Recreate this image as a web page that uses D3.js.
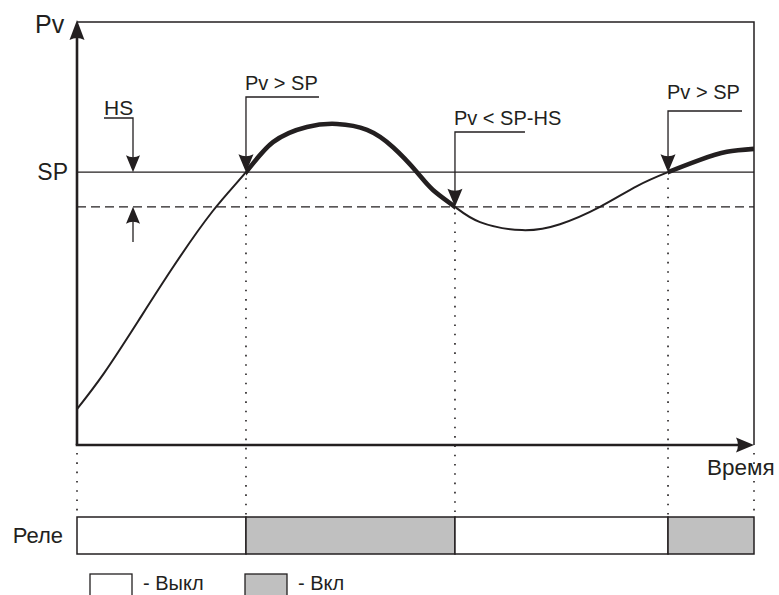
<!DOCTYPE html>
<html>
<head>
<meta charset="utf-8">
<script src="https://cdn.jsdelivr.net/npm/d3@7"></script>
<style>
  html, body { margin: 0; padding: 0; background: #fff; }
  svg { display: block; }
  text { font-family: "Liberation Sans", Arial, sans-serif; fill: #231f20; }
</style>
</head>
<body>
<svg id="chart" width="779" height="595"></svg>
<script>
// ---- data (arbitrary units: time 0..100, Pv 0..100) ----
const timeValues = [0, 4, 9, 14, 20, 24.96, 28.95, 33.97, 38.4, 42.84, 46.68, 50.22, 52.58, 55.83, 59.53, 65.73, 71.34, 77.25, 82.72, 87.3, 92.02, 96.0, 100];
const pvValues   = [8.5, 17.0, 29.2, 41.6, 55.2, 64.5, 71.6, 75.2, 75.9, 74.5, 70.4, 64.5, 60.3, 56.3, 52.7, 50.8, 52.2, 56.3, 61.2, 64.5, 67.4, 69.3, 70.0];
const setPoint = 64.5;
const hysteresis = 8.2;
const switchTimes = [24.96, 55.83, 87.3];          // relay switching moments
const switchLabels = ["Pv > SP", "Pv < SP-HS", "Pv > SP"];
const switchLevels = [64.5, 56.3, 64.5];
const relayStart = [0, 24.96, 55.83, 87.3];
const relayEnd   = [24.96, 55.83, 87.3, 100];
const relayOn    = [false, true, false, true];
const legendLabels = ["- Выкл", "- Вкл"];

const INK = "#231f20";
const GRAY = "#c0c0c0";

const svg = d3.select("#chart");
const x = d3.scaleLinear().domain([0, 100]).range([77, 754]);
const y = d3.scaleLinear().domain([0, 100]).range([445, 22]);

const pts = timeValues.map((t, i) => [t, pvValues[i]]);
const line = d3.line().x(d => x(d[0])).y(d => y(d[1])).curve(d3.curveNatural);

function tri(cx, tipY, w, h, dir) {
  // dir: 1 = pointing down, -1 = pointing up
  const by = tipY - dir * h;
  return `M${cx},${tipY}L${cx - w / 2},${by}Q${cx},${by + dir * 4} ${cx + w / 2},${by}Z`;
}
function triRight(tipX, cy, w, h) {
  const bx = tipX - w;
  return `M${tipX},${cy}L${bx},${cy - h / 2}Q${bx + 4},${cy} ${bx},${cy + h / 2}Z`;
}

const relayTop = 517, relayBot = 554;

// ---- frame ----
svg.append("path").attr("d", `M${x(0)},${y(100)}H${x(100)}V${y(0)}`)
  .attr("fill", "none").attr("stroke", INK).attr("stroke-width", 1.5);

// SP line and SP-HS dashed line
svg.append("line").attr("x1", x(0)).attr("x2", x(100)).attr("y1", y(setPoint)).attr("y2", y(setPoint))
  .attr("stroke", INK).attr("stroke-width", 1.4);
svg.append("line").attr("x1", x(0)).attr("x2", x(100)).attr("y1", y(setPoint - hysteresis)).attr("y2", y(setPoint - hysteresis))
  .attr("stroke", INK).attr("stroke-width", 1.4).attr("stroke-dasharray", "9,5");

// dotted verticals
switchTimes.forEach((t, i) => {
  svg.append("line").attr("x1", x(t)).attr("x2", x(t)).attr("y1", y(switchLevels[i]) + 6).attr("y2", relayTop)
    .attr("stroke", INK).attr("stroke-width", 1.6).attr("stroke-dasharray", "1.6,7.7");
});
[0, 100].forEach(t => {
  svg.append("line").attr("x1", x(t)).attr("x2", x(t)).attr("y1", y(0) + 8).attr("y2", relayTop)
    .attr("stroke", INK).attr("stroke-width", 1.6).attr("stroke-dasharray", "1.6,7.7");
});

// ---- curve ----
svg.append("path").datum(pts).attr("d", line).attr("fill", "none")
  .attr("stroke", INK).attr("stroke-width", 2);

const defs = svg.append("defs");
relayStart.forEach((s, i) => {
  if (!relayOn[i]) return;
  defs.append("clipPath").attr("id", "on" + i).append("rect")
    .attr("x", x(s)).attr("width", x(relayEnd[i]) - x(s)).attr("y", 0).attr("height", 595);
  svg.append("path").datum(pts).attr("d", line).attr("fill", "none")
    .attr("stroke", INK).attr("stroke-width", 4.6).attr("clip-path", `url(#on${i})`);
});

// ---- axes ----
svg.append("line").attr("x1", x(0)).attr("x2", x(0)).attr("y1", y(0)).attr("y2", 36)
  .attr("stroke", INK).attr("stroke-width", 2.6);
svg.append("path").attr("d", tri(x(0), 20, 15, 20, -1)).attr("fill", INK);
svg.append("line").attr("x1", x(0) - 1.3).attr("x2", 740).attr("y1", y(0)).attr("y2", y(0))
  .attr("stroke", INK).attr("stroke-width", 2.6);
svg.append("path").attr("d", triRight(x(100), y(0), 18, 15)).attr("fill", INK);

// ---- axis labels ----
svg.append("text").attr("x", 35).attr("y", 33).attr("font-size", 25).text("Pv");
svg.append("text").attr("x", 68).attr("y", 180).attr("text-anchor", "end").attr("font-size", 23).text("SP");
svg.append("text").attr("x", 707).attr("y", 475).attr("font-size", 22.5).text("Время");

// ---- HS annotation ----
const hsX = 133;
svg.append("text").attr("x", 104).attr("y", 115).attr("font-size", 21).text("HS");
svg.append("path").attr("d", `M104,118H${hsX}V${y(setPoint) - 14}`).attr("fill", "none")
  .attr("stroke", INK).attr("stroke-width", 1.3);
svg.append("path").attr("d", tri(hsX, y(setPoint), 14, 17, 1)).attr("fill", INK);
svg.append("path").attr("d", `M${hsX},242V${y(setPoint - hysteresis) + 14}`).attr("fill", "none")
  .attr("stroke", INK).attr("stroke-width", 1.3);
svg.append("path").attr("d", tri(hsX, y(setPoint - hysteresis), 14, 17, -1)).attr("fill", INK);

// ---- switch annotations ----
const leaderY = [97, 132, 111];
const leaderLen = [73, 70, 74];
const textY = [90, 125, 99];
switchTimes.forEach((t, i) => {
  const sx = x(t), ty = y(switchLevels[i]);
  svg.append("path").attr("d", `M${sx + leaderLen[i]},${leaderY[i]}H${sx}V${ty - 14}`).attr("fill", "none")
    .attr("stroke", INK).attr("stroke-width", 1.3);
  svg.append("path").attr("d", tri(sx, ty, 15, 18, 1)).attr("fill", INK);
  svg.append("text").attr("x", sx - 1).attr("y", textY[i]).attr("font-size", 20).text(switchLabels[i]);
});

// ---- relay bar ----
svg.append("text").attr("x", 63).attr("y", 543).attr("text-anchor", "end").attr("font-size", 22).text("Реле");
relayStart.forEach((s, i) => {
  svg.append("rect").attr("x", x(s)).attr("y", relayTop).attr("width", x(relayEnd[i]) - x(s)).attr("height", relayBot - relayTop)
    .attr("fill", relayOn[i] ? GRAY : "#fff").attr("stroke", INK).attr("stroke-width", 1.5);
});

// ---- legend ----
const legendX = [90, 245];
legendLabels.forEach((lab, i) => {
  svg.append("rect").attr("x", legendX[i]).attr("y", 574).attr("width", 42).attr("height", 30)
    .attr("fill", i === 1 ? GRAY : "#fff").attr("stroke", INK).attr("stroke-width", 1.3);
  svg.append("text").attr("x", legendX[i] + 53).attr("y", 590).attr("font-size", 20).text(lab);
});
</script>
</body>
</html>
